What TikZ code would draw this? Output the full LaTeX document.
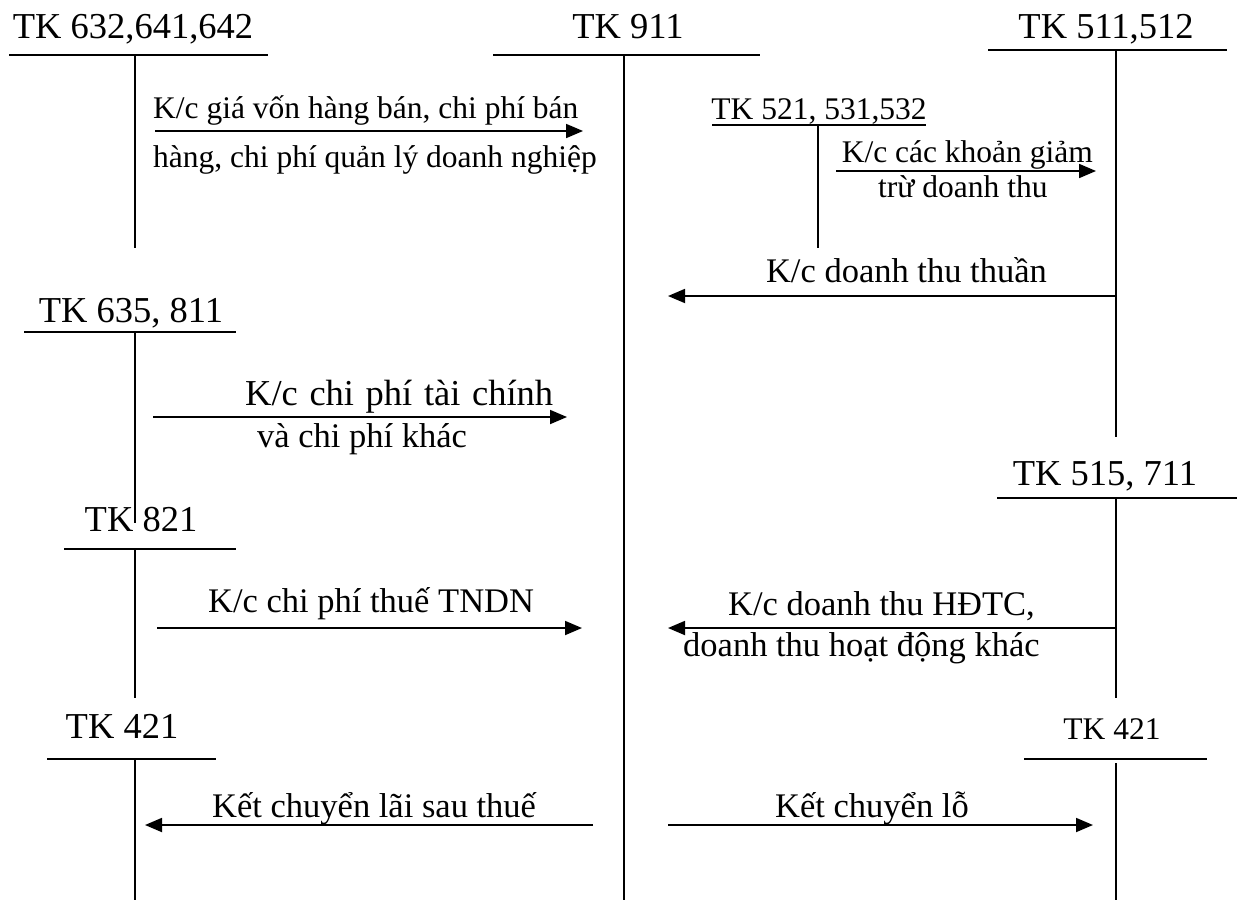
\documentclass[tikz,border=0pt]{standalone}
\usepackage{fontspec}
\setmainfont{Liberation Serif}
\usetikzlibrary{arrows.meta}
\begin{document}
\begin{tikzpicture}[x=1pt,y=-1pt,
  big/.style={inner sep=0pt,font=\fontsize{36.5}{40}\selectfont},
  mid/.style={inner sep=0pt,font=\fontsize{34.5}{38}\selectfont},
  small/.style={inner sep=0pt,font=\fontsize{31.5}{35}\selectfont},
  rule/.style={line width=1.8pt},
  post/.style={line width=1.8pt,-{Triangle[length=17pt,width=14pt]}},
]
\useasboundingbox (0,0) rectangle (1243,902);

% ---------- T-accounts ----------
% TK 632,641,642
\node[big,anchor=base] (a632) at (133,38) {TK 632,641,642};
\coordinate (a632L) at (9,55);   \coordinate (a632R) at (268,55);
\coordinate (a632T) at (135,55); \coordinate (a632B) at (135,248);
\draw[rule] (a632L) -- (a632R);
\draw[rule] (a632T) -- (a632B);

% TK 911
\node[big,anchor=base] (a911) at (628,38) {TK 911};
\coordinate (a911L) at (493,55); \coordinate (a911R) at (760,55);
\coordinate (a911T) at (624,55); \coordinate (a911B) at (624,900);
\draw[rule] (a911L) -- (a911R);
\draw[rule] (a911T) -- (a911B);

% TK 511,512
\node[big,anchor=base] (a511) at (1106,38) {TK 511,512};
\coordinate (a511L) at (988,50);  \coordinate (a511R) at (1227,50);
\coordinate (a511T) at (1116,50); \coordinate (a511B) at (1116,437);
\draw[rule] (a511L) -- (a511R);
\draw[rule] (a511T) -- (a511B);

% TK 521, 531,532
\node[small,anchor=base] (a521) at (819,119) {TK 521, 531,532};
\coordinate (a521L) at (712,125); \coordinate (a521R) at (926,125);
\coordinate (a521T) at (818,125); \coordinate (a521B) at (818,248);
\draw[rule] (a521L) -- (a521R);
\draw[rule] (a521T) -- (a521B);

% TK 635, 811
\node[big,anchor=base] (a635) at (131,322) {TK 635, 811};
\coordinate (a635L) at (24,332);  \coordinate (a635R) at (236,332);
\coordinate (a635T) at (135,332); \coordinate (a635B) at (135,523);
\draw[rule] (a635L) -- (a635R);
\draw[rule] (a635T) -- (a635B);

% TK 821
\node[big,anchor=base] (a821) at (141,531) {TK 821};
\coordinate (a821L) at (64,549);  \coordinate (a821R) at (236,549);
\coordinate (a821T) at (135,549); \coordinate (a821B) at (135,698);
\draw[rule] (a821L) -- (a821R);
\draw[rule] (a821T) -- (a821B);

% TK 515, 711
\node[big,anchor=base] (a515) at (1105,485) {TK 515, 711};
\coordinate (a515L) at (997,498);  \coordinate (a515R) at (1237,498);
\coordinate (a515T) at (1116,498); \coordinate (a515B) at (1116,698);
\draw[rule] (a515L) -- (a515R);
\draw[rule] (a515T) -- (a515B);

% TK 421 (profit side)
\node[big,anchor=base] (a421l) at (122,738) {TK 421};
\coordinate (a421lL) at (47,759);  \coordinate (a421lR) at (216,759);
\coordinate (a421lT) at (135,759); \coordinate (a421lB) at (135,900);
\draw[rule] (a421lL) -- (a421lR);
\draw[rule] (a421lT) -- (a421lB);

% TK 421 (loss side)
\node[small,anchor=base] (a421r) at (1112,739) {TK 421};
\coordinate (a421rL) at (1024,759);  \coordinate (a421rR) at (1207,759);
\coordinate (a421rT) at (1116,763);  \coordinate (a421rB) at (1116,900);
\draw[rule] (a421rL) -- (a421rR);
\draw[rule] (a421rT) -- (a421rB);

% ---------- transfers ----------
\coordinate (p1s) at (155,131); \coordinate (p1e) at (583,131);
\draw[post] (p1s) -- (p1e);
\node[small,anchor=base west] (t1a) at (153,118) {K/c giá vốn hàng bán, chi phí bán};
\node[small,anchor=base west] (t1b) at (153,167) {hàng, chi phí quản lý doanh nghiệp};

\coordinate (p2s) at (836,171); \coordinate (p2e) at (1096,171);
\draw[post] (p2s) -- (p2e);
\node[small,anchor=base east] (t2a) at (1093,162) {K/c các khoản giảm};
\node[small,anchor=base west] (t2b) at (878,197) {trừ doanh thu};

\coordinate (p3s) at (1116,296); \coordinate (p3e) at (668,296);
\draw[post] (p3s) -- (p3e);
\node[mid,anchor=base east] (t3) at (1047,282) {K/c doanh thu thuần};

\coordinate (p4s) at (153,417); \coordinate (p4e) at (567,417);
\draw[post] (p4s) -- (p4e);
\node[big,anchor=base west] (t4a) at (245,405) {\makebox[308pt][s]{K/c chi phí tài chính}};
\node[mid,anchor=base west] (t4b) at (257,447) {và chi phí khác};

\coordinate (p5s) at (157,628); \coordinate (p5e) at (582,628);
\draw[post] (p5s) -- (p5e);
\node[mid,anchor=base west] (t5) at (208,612) {K/c chi phí thuế TNDN};

\coordinate (p6s) at (1116,628); \coordinate (p6e) at (668,628);
\draw[post] (p6s) -- (p6e);
\node[mid,anchor=base west] (t6a) at (728,615) {K/c doanh thu HĐTC,};
\node[mid,anchor=base west] (t6b) at (683,656) {doanh thu hoạt động khác};

\coordinate (p7s) at (593,825); \coordinate (p7e) at (145,825);
\draw[post] (p7s) -- (p7e);
\node[mid,anchor=base west] (t7) at (212,817) {Kết chuyển lãi sau thuế};

\coordinate (p8s) at (668,825); \coordinate (p8e) at (1093,825);
\draw[post] (p8s) -- (p8e);
\node[mid,anchor=base west] (t8) at (775,817) {Kết chuyển lỗ};
\end{tikzpicture}
\end{document}
